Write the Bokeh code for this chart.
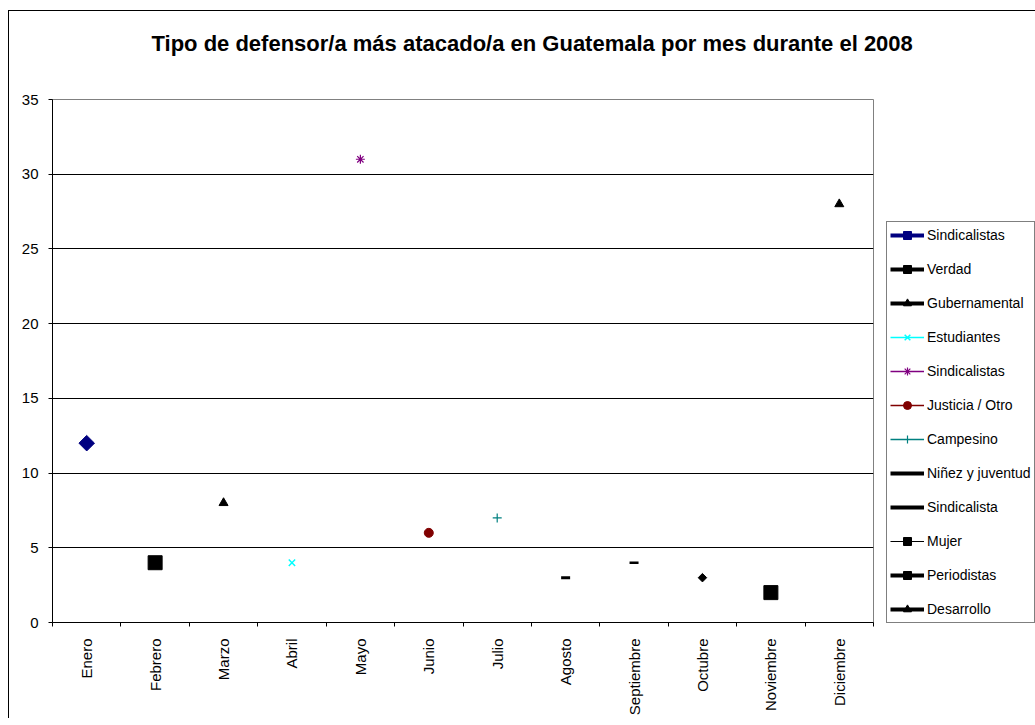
from bokeh.plotting import figure
from bokeh.models import (FactorRange, Range1d, LinearAxis, CategoricalAxis, FixedTicker,
                          Legend, LegendItem, Title)
from bokeh.embed import file_html
from bokeh.resources import INLINE
import math

# ---------------- data ----------------
months = ["Enero", "Febrero", "Marzo", "Abril", "Mayo", "Junio", "Julio",
          "Agosto", "Septiembre", "Octubre", "Noviembre", "Diciembre"]
series_names = ["Sindicalistas", "Verdad", "Gubernamental", "Estudiantes", "Sindicalistas",
                "Justicia / Otro", "Campesino", "Niñez y juventud", "Sindicalista",
                "Mujer", "Periodistas", "Desarrollo"]
values = [12, 4, 8, 4, 31, 6, 7, 3, 4, 3, 2, 28]
y_ticks = [0, 5, 10, 15, 20, 25, 30, 35]
title_text = "Tipo de defensor/a más atacado/a en Guatemala por mes durante el 2008"

# ---------------- styles ----------------
# (marker, size, angle, color, marker line width, legend line width)
styles = [
    ("square", 11, math.pi / 4, "#000080", 1, 4),
    ("square", 14, 0, "#000000", 1, 4),
    ("triangle", 9, 0, "#000000", 1, 4),
    ("x", 9, 0, "#00FFFF", 1.5, 1.5),
    ("asterisk", 9, 0, "#800080", 1.2, 1.5),
    ("circle", 9, 0, "#800000", 1, 1.5),
    ("cross", 9, 0, "#008080", 1.2, 1.5),
    ("dash", 9, 0, "#000000", 3, 4),
    ("dash", 9, 0, "#000000", 2.5, 4),
    ("square", 6, math.pi / 4, "#000000", 1, 1.2),
    ("square", 14, 0, "#000000", 1, 4),
    ("triangle", 9, 0, "#000000", 1, 4),
]

FONT = "Liberation Sans"

p = figure(x_range=FactorRange(factors=months), y_range=Range1d(0, 35),
           frame_width=821, frame_height=523, title=None,
           min_border_left=43, min_border_right=162, min_border_top=88, min_border_bottom=80,
           x_axis_location=None, output_backend="svg", toolbar_location=None,
           background_fill_color="white", border_fill_color="white")
p.styles = {"margin-left": "8px", "margin-top": "10px",
            "border-left": "1px solid black", "border-top": "1px solid black"}
p.outline_line_color = "#808080"
p.outline_line_width = 1

# title: a blank spacer next to the frame, then the real title above it
p.add_layout(Title(text=" ", text_font_size="1px", standoff=41), "above")
p.add_layout(Title(text=title_text, align="left", offset=99, standoff=0,
                   vertical_align="bottom",
                   text_font=FONT, text_font_size="22px", text_font_style="bold",
                   text_color="black"), "above")

# y axis
yax = p.yaxis[0]
yax.ticker = FixedTicker(ticks=y_ticks)
yax.major_tick_out = 4
yax.major_tick_in = 0
yax.minor_tick_out = 0
yax.minor_tick_in = 0
yax.axis_line_color = "black"
yax.major_tick_line_color = "black"
yax.major_label_text_font = FONT
yax.major_label_text_font_size = "15px"
yax.major_label_text_color = "black"
yax.major_label_standoff = 10

for g in p.grid:
    if g.dimension == 0:
        g.visible = False
p.ygrid.grid_line_color = "black"
p.ygrid.grid_line_width = 1

# x axis: tick marks between categories (synthetic coordinates 0..12 of the factor range)
edge_axis = LinearAxis(ticker=FixedTicker(ticks=list(range(len(months) + 1))),
                       major_label_overrides={i: "" for i in range(len(months) + 1)},
                       major_label_text_font_size="1px", major_label_standoff=0,
                       major_tick_out=4, major_tick_in=0, minor_tick_out=0, minor_tick_in=0,
                       axis_line_color="black", major_tick_line_color="black")
p.add_layout(edge_axis, "below")

cat_axis = CategoricalAxis(major_tick_out=0, major_tick_in=0, axis_line_color=None,
                           major_label_orientation=math.pi / 2, major_label_standoff=12,
                           major_label_text_font=FONT, major_label_text_font_size="15px",
                           major_label_text_color="black")
p.add_layout(cat_axis, "below")

# series
items = []
for i, (m, v, name) in enumerate(zip(months, values, series_names)):
    mk, sz, ang, col, mlw, llw = styles[i]
    lr = p.line(x=[m], y=[v], line_color=col, line_width=llw)
    sr = p.scatter(x=[m], y=[v], marker=mk, size=sz, angle=ang,
                   fill_color=col, line_color=col, line_width=mlw)
    items.append(LegendItem(label=name, renderers=[lr, sr]))

legend = Legend(items=items, location=(13, -1),
                border_line_color="black", border_line_width=1,
                background_fill_color="white", background_fill_alpha=1,
                label_text_font=FONT, label_text_font_size="14px", label_text_color="black",
                glyph_width=34, glyph_height=20, label_height=20, spacing=14,
                padding=3, margin=0, label_standoff=3)
p.add_layout(legend, "right")

open("out.html", "w").write(file_html(p, INLINE))
